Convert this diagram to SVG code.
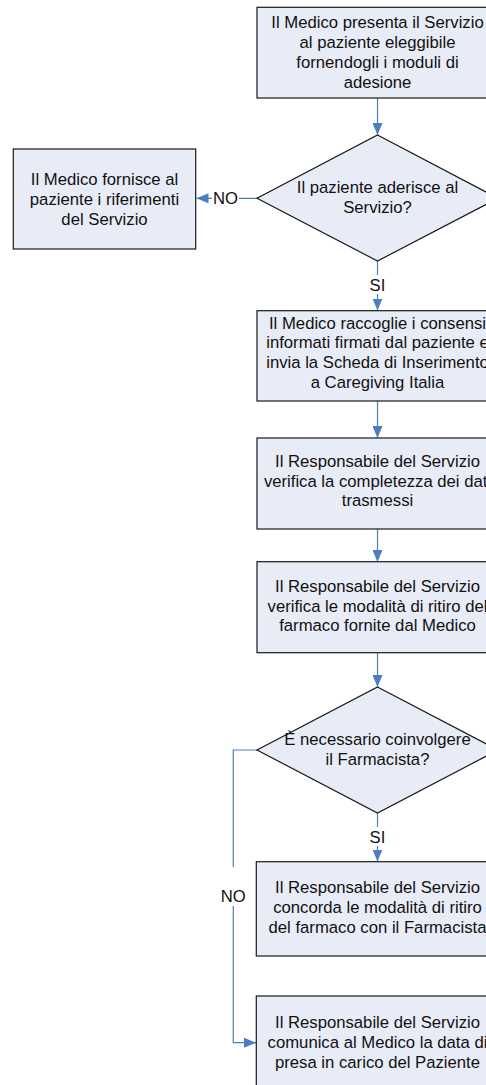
<svg xmlns="http://www.w3.org/2000/svg" width="486" height="1085" viewBox="0 0 486 1085">
<style>
.box{fill:#E8ECF7;stroke:#1a1a1a;stroke-width:1.2}
.t{font-family:"Liberation Sans",Arial,sans-serif;font-size:16.7px;fill:#111;text-anchor:middle}
.c{fill:none;stroke:#4A7EBF;stroke-width:1.2}
.lbl{fill:#ffffff}
</style>
<defs>
<marker id="ah" viewBox="0 0 12 10" refX="12" refY="5" markerWidth="12" markerHeight="10" markerUnits="userSpaceOnUse" orient="auto">
<path d="M0,0 L12,5 L0,10 Z" fill="#4A7EBF"/>
</marker>
</defs>
<rect width="486" height="1085" fill="#ffffff"/>
<g id="connectors">
<line class="c" x1="377.5" y1="98" x2="377.5" y2="135" marker-end="url(#ah)"/>
<line class="c" x1="257" y1="198.3" x2="196.5" y2="198.3" marker-end="url(#ah)"/>
<rect class="lbl" x="212" y="190" width="27" height="17"/>
<text class="t" x="225.5" y="204.3">NO</text>
<line class="c" x1="377.5" y1="261" x2="377.5" y2="310.5" marker-end="url(#ah)"/>
<rect class="lbl" x="368" y="275" width="19" height="19"/>
<text class="t" x="377.5" y="290.5">SI</text>
<line class="c" x1="377.5" y1="401" x2="377.5" y2="438" marker-end="url(#ah)"/>
<line class="c" x1="377.5" y1="529" x2="377.5" y2="562" marker-end="url(#ah)"/>
<line class="c" x1="377.5" y1="653" x2="377.5" y2="687" marker-end="url(#ah)"/>
<line class="c" x1="377.5" y1="813" x2="377.5" y2="861.5" marker-end="url(#ah)"/>
<rect class="lbl" x="368" y="827" width="19" height="19"/>
<text class="t" x="377.5" y="843">SI</text>
<polyline class="c" points="257,750 233.3,750 233.3,1042.7 256,1042.7" marker-end="url(#ah)"/>
<rect class="lbl" x="219" y="867" width="29" height="39"/>
<text class="t" x="233.3" y="901.7">NO</text>
</g>
<g id="n1">
<rect class="box" x="257" y="7.3" width="241" height="90.7"/>
<text class="t" x="377.5" y="28.3">Il Medico presenta il Servizio</text>
<text class="t" x="377.5" y="48">al paziente eleggibile</text>
<text class="t" x="377.5" y="67.8">fornendogli i moduli di</text>
<text class="t" x="377.5" y="87.6">adesione</text>
</g>
<g id="n2">
<polygon class="box" points="377.5,135 498,198.3 377.5,261 257,198.3"/>
<text class="t" x="377.5" y="193.3">Il paziente aderisce al</text>
<text class="t" x="377.5" y="213.3">Servizio?</text>
</g>
<g id="n3">
<rect class="box" x="13.3" y="149" width="182.4" height="100"/>
<text class="t" x="104.5" y="184.5">Il Medico fornisce al</text>
<text class="t" x="104.5" y="204.8">paziente i riferimenti</text>
<text class="t" x="104.5" y="225">del Servizio</text>
</g>
<g id="n4">
<rect class="box" x="257" y="310.7" width="241" height="90.3"/>
<text class="t" x="377.5" y="328.7">Il Medico raccoglie i consensi</text>
<text class="t" x="377.5" y="348.4">informati firmati dal paziente e</text>
<text class="t" x="377.5" y="368.1">invia la Scheda di Inserimento</text>
<text class="t" x="377.5" y="387.8">a Caregiving Italia</text>
</g>
<g id="n5">
<rect class="box" x="257" y="438" width="241" height="91"/>
<text class="t" x="377.5" y="466.7">Il Responsabile del Servizio</text>
<text class="t" x="377.5" y="486.5">verifica la completezza dei dati</text>
<text class="t" x="377.5" y="506.3">trasmessi</text>
</g>
<g id="n6">
<rect class="box" x="257" y="561.7" width="241" height="91"/>
<text class="t" x="377.5" y="591.7">Il Responsabile del Servizio</text>
<text class="t" x="377.5" y="611.5">verifica le modalità di ritiro del</text>
<text class="t" x="377.5" y="631.3">farmaco fornite dal Medico</text>
</g>
<g id="n7">
<polygon class="box" points="377.5,687 498,750 377.5,813 257,750"/>
<text class="t" x="377.5" y="745">È necessario coinvolgere</text>
<text class="t" x="377.5" y="765">il Farmacista?</text>
</g>
<g id="n8">
<rect class="box" x="256.3" y="861.7" width="241.7" height="94.3"/>
<text class="t" x="377.5" y="893.3">Il Responsabile del Servizio</text>
<text class="t" x="377.5" y="913.1">concorda le modalità di ritiro</text>
<text class="t" x="377.5" y="932.9">del farmaco con il Farmacista</text>
</g>
<g id="n9">
<rect class="box" x="256.3" y="996" width="241.7" height="93"/>
<text class="t" x="377.5" y="1028.3">Il Responsabile del Servizio</text>
<text class="t" x="377.5" y="1048.1">comunica al Medico la data di</text>
<text class="t" x="377.5" y="1067.9">presa in carico del Paziente</text>
</g>
</svg>
